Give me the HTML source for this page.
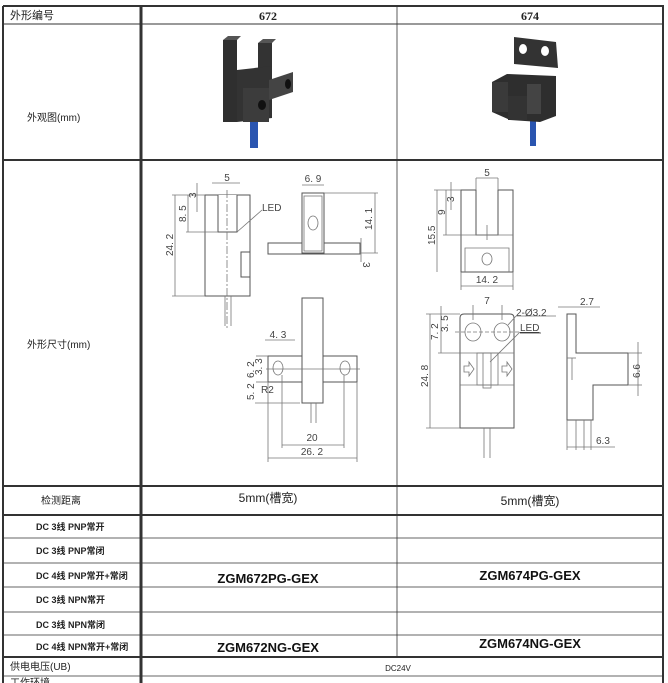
<!DOCTYPE html>
<html><head><meta charset="utf-8"><style>
html,body{margin:0;padding:0;background:#fff;}
svg{display:block;}
text{font-family:"Liberation Sans","Noto Sans CJK SC",sans-serif;fill:#222;}
.d{stroke:#777;stroke-width:0.8;fill:none;}
.o{stroke:#555;stroke-width:1;fill:#fff;}
.t{font-size:10px;fill:#444;}
.b{font-weight:bold;font-size:9px;fill:#222;}
.z{font-weight:bold;font-size:13px;fill:#111;}
</style></head><body>
<svg width="668" height="683" viewBox="0 0 668 683" xmlns="http://www.w3.org/2000/svg">
<rect width="668" height="683" fill="#fff"/>
<!-- table lines -->
<g stroke="#333" fill="none">
<line x1="3" y1="6" x2="664" y2="6" stroke-width="2"/>
<line x1="3" y1="24" x2="664" y2="24" stroke-width="1"/>
<line x1="3" y1="160" x2="664" y2="160" stroke-width="2"/>
<line x1="3" y1="486" x2="664" y2="486" stroke-width="2"/>
<line x1="3" y1="515" x2="664" y2="515" stroke-width="2"/>
<line x1="3" y1="538" x2="664" y2="538" stroke-width="0.8"/>
<line x1="3" y1="563" x2="664" y2="563" stroke-width="0.8"/>
<line x1="3" y1="587" x2="664" y2="587" stroke-width="0.8"/>
<line x1="3" y1="612" x2="664" y2="612" stroke-width="0.8"/>
<line x1="3" y1="635" x2="664" y2="635" stroke-width="0.8"/>
<line x1="3" y1="657" x2="664" y2="657" stroke-width="2"/>
<line x1="3" y1="676" x2="664" y2="676" stroke-width="0.8"/>
<line x1="3" y1="6" x2="3" y2="683" stroke-width="2"/>
<line x1="141" y1="6" x2="141" y2="683" stroke-width="3"/>
<line x1="397" y1="6" x2="397" y2="657" stroke-width="0.8"/>
<line x1="663" y1="6" x2="663" y2="683" stroke-width="2"/>
</g>
<!-- header texts -->
<text x="10" y="19" font-size="11">外形编号</text>
<text x="268" y="20" font-size="12" font-weight="bold" text-anchor="middle" style="font-family:'Liberation Serif',serif">672</text>
<text x="530" y="20" font-size="12" font-weight="bold" text-anchor="middle" style="font-family:'Liberation Serif',serif">674</text>
<text x="27" y="121" font-size="10">外观图(mm)</text>
<text x="27" y="348" font-size="10">外形尺寸(mm)</text>
<text x="41" y="504" font-size="10">检测距离</text>
<text x="268" y="502" font-size="12" text-anchor="middle">5mm(槽宽)</text>
<text x="530" y="505" font-size="12" text-anchor="middle">5mm(槽宽)</text>
<text x="36" y="530" class="b">DC 3线  PNP常开</text>
<text x="36" y="554" class="b">DC 3线  PNP常闭</text>
<text x="36" y="579" class="b">DC 4线  PNP常开+常闭</text>
<text x="36" y="603" class="b">DC 3线  NPN常开</text>
<text x="36" y="628" class="b">DC 3线  NPN常闭</text>
<text x="36" y="650" class="b">DC 4线  NPN常开+常闭</text>
<text x="268" y="583" class="z" text-anchor="middle">ZGM672PG-GEX</text>
<text x="530" y="580" class="z" text-anchor="middle">ZGM674PG-GEX</text>
<text x="268" y="652" class="z" text-anchor="middle">ZGM672NG-GEX</text>
<text x="530" y="648" class="z" text-anchor="middle">ZGM674NG-GEX</text>
<text x="10" y="670" font-size="10">供电电压(UB)</text>
<text x="398" y="671" font-size="8" text-anchor="middle">DC24V</text>
<text x="10" y="686" font-size="10">工作环境</text>

<!-- photo 672 -->
<rect x="250" y="118" width="8" height="30" fill="#2a55b0"/>
<polygon points="223,40 228,36 241,36 237,40" fill="#555"/>
<polygon points="258,43 263,39 276,39 272,43" fill="#555"/>
<rect x="223" y="40" width="14" height="82" fill="#2f2f2f"/>
<rect x="258" y="43" width="14" height="40" fill="#333"/>
<rect x="237" y="70" width="21" height="50" fill="#3a3a3a"/>
<polygon points="237,122 237,70 272,66 272,118" fill="#333"/>
<rect x="243" y="88" width="26" height="34" fill="#3c3c3c"/>
<polygon points="269,80 293,72 293,92 269,100" fill="#444"/>
<ellipse cx="262" cy="105" rx="4" ry="5" fill="#111"/>
<ellipse cx="288" cy="84" rx="3" ry="5" fill="#111"/>
<!-- photo 674 -->
<rect x="530" y="120" width="6" height="26" fill="#2a55b0"/>
<polygon points="514,37 556,42 558,68 514,64" fill="#333"/>
<ellipse cx="523" cy="49" rx="4" ry="5" fill="#fff"/>
<ellipse cx="545" cy="51" rx="4" ry="5" fill="#fff"/>
<polygon points="492,82 507,74 556,76 556,116 540,122 510,120 492,112" fill="#2e2e2e"/>
<rect x="492" y="82" width="16" height="30" fill="#3a3a3a"/>
<rect x="527" y="84" width="14" height="30" fill="#444"/>
<rect x="508" y="96" width="19" height="24" fill="#333"/>

<!-- drawing 672 -->
<g>
<rect class="o" x="205" y="195" width="45" height="101"/>
<path class="o" d="M218,195 V232 H237 V195"/>
<rect class="o" x="241" y="252" width="9" height="25"/>
<line class="d" x1="227" y1="190" x2="227" y2="330" stroke-dasharray="8,2,2,2"/>
<line class="d" x1="225" y1="296" x2="225" y2="326"/>
<line class="d" x1="231" y1="296" x2="231" y2="326"/>
<line class="d" x1="175" y1="195" x2="175" y2="296"/>
<line class="d" x1="172" y1="195" x2="205" y2="195"/>
<line class="d" x1="172" y1="296" x2="205" y2="296"/>
<line class="d" x1="188" y1="195" x2="188" y2="232"/>
<line class="d" x1="186" y1="232" x2="218" y2="232"/>
<line class="d" x1="197" y1="183" x2="197" y2="212"/>
<line class="d" x1="212" y1="183" x2="240" y2="183"/>
<line class="d" x1="237" y1="232" x2="262" y2="210"/>
<text class="t" x="227" y="181" text-anchor="middle">5</text>
<text class="t" x="262" y="211" font-size="7">LED</text>
<text class="t" font-size="9" transform="translate(196,198) rotate(-90)">3</text>
<text class="t" transform="translate(186,222) rotate(-90)">8. 5</text>
<text class="t" transform="translate(173,256) rotate(-90)">24. 2</text>
<!-- top view -->
<rect class="o" x="268" y="243" width="92" height="11"/>
<rect class="o" x="302" y="193" width="22" height="60"/>
<rect class="d" x="304" y="196" width="18" height="55"/>
<ellipse class="d" cx="313" cy="223" rx="5" ry="7"/>
<line class="d" x1="302" y1="185" x2="324" y2="185"/>
<line class="d" x1="324" y1="193" x2="378" y2="193"/>
<line class="d" x1="360" y1="253" x2="378" y2="253"/>
<line class="d" x1="375" y1="193" x2="375" y2="253"/>
<line class="d" x1="361" y1="238" x2="361" y2="262"/>
<text class="t" x="313" y="182" text-anchor="middle">6. 9</text>
<text class="t" transform="translate(372,230) rotate(-90)">14. 1</text>
<text class="t" font-size="9" transform="translate(363,262) rotate(90)">3</text>
<!-- bottom view -->
<rect class="o" x="268" y="356" width="89" height="26"/>
<rect class="o" x="302" y="298" width="21" height="105"/>
<ellipse class="d" cx="278" cy="368" rx="5" ry="7"/>
<ellipse class="d" cx="345" cy="368" rx="5" ry="7"/>
<line class="d" x1="266" y1="369" x2="360" y2="369"/>
<line class="d" x1="311" y1="403" x2="311" y2="423"/>
<line class="d" x1="316" y1="403" x2="316" y2="423"/>
<line class="d" x1="282" y1="375" x2="282" y2="448"/>
<line class="d" x1="344" y1="375" x2="344" y2="448"/>
<line class="d" x1="268" y1="382" x2="268" y2="462"/>
<line class="d" x1="357" y1="382" x2="357" y2="462"/>
<line class="d" x1="282" y1="445" x2="344" y2="445"/>
<line class="d" x1="268" y1="458" x2="357" y2="458"/>
<line class="d" x1="265" y1="340" x2="295" y2="340"/>
<line class="d" x1="256" y1="356" x2="268" y2="356"/>
<line class="d" x1="256" y1="382" x2="268" y2="382"/>
<line class="d" x1="255" y1="403" x2="300" y2="403"/>
<text class="t" x="312" y="441" text-anchor="middle" font-size="11">20</text>
<text class="t" x="312" y="455" text-anchor="middle" font-size="11">26. 2</text>
<text class="t" x="278" y="338" text-anchor="middle" font-size="8">4. 3</text>
<text class="t" x="261" y="393" font-size="9">R2</text>
<text class="t" font-size="8" transform="translate(254,378) rotate(-90)">6. 2</text>
<text class="t" font-size="7" transform="translate(262,375) rotate(-90)">3. 3</text>
<text class="t" font-size="7" transform="translate(254,400) rotate(-90)">5. 2</text>
</g>

<!-- drawing 674 -->
<g>
<path class="o" d="M461,190 H476 V235 H498 V190 H513 V272 H461 Z"/>
<line class="d" x1="461" y1="235" x2="513" y2="235"/>
<path class="d" d="M465,272 V248 H509 V272"/>
<ellipse class="d" cx="487" cy="259" rx="5" ry="6"/>
<line class="d" x1="487" y1="225" x2="487" y2="240"/>
<line class="d" x1="476" y1="178" x2="498" y2="178"/>
<line class="d" x1="476" y1="178" x2="476" y2="190"/>
<line class="d" x1="498" y1="178" x2="498" y2="190"/>
<line class="d" x1="461" y1="286" x2="513" y2="286"/>
<line class="d" x1="461" y1="272" x2="461" y2="290"/>
<line class="d" x1="513" y1="272" x2="513" y2="290"/>
<line class="d" x1="437" y1="190" x2="437" y2="272"/>
<line class="d" x1="434" y1="190" x2="461" y2="190"/>
<line class="d" x1="446" y1="190" x2="446" y2="235"/>
<line class="d" x1="443" y1="235" x2="461" y2="235"/>
<line class="d" x1="451" y1="182" x2="451" y2="210"/>
<text class="t" x="487" y="176" text-anchor="middle" font-size="11">5</text>
<text class="t" x="487" y="283" text-anchor="middle" font-size="11">14. 2</text>
<text class="t" font-size="9" transform="translate(435,245) rotate(-90)">15.5</text>
<text class="t" font-size="9" transform="translate(445,215) rotate(-90)">9</text>
<text class="t" font-size="7" transform="translate(454,202) rotate(-90)">3</text>
<!-- front bottom -->
<path class="o" d="M464,314 H510 Q514,314 514,318 V428 H460 V318 Q460,314 464,314 Z"/>
<line class="d" x1="460" y1="353" x2="514" y2="353"/>
<line class="d" x1="460" y1="385" x2="514" y2="385"/>
<rect class="d" x="477" y="353" width="21" height="32"/>
<rect class="d" x="483" y="353" width="8" height="35"/>
<ellipse class="d" cx="473" cy="332" rx="8" ry="9"/>
<ellipse class="d" cx="502" cy="332" rx="8" ry="9"/>
<line class="d" x1="455" y1="332" x2="520" y2="332" stroke-dasharray="4,2"/>
<path class="d" d="M464,366 H469 V362 L474,369 L469,376 V372 H464 Z"/>
<path class="d" d="M502,366 H507 V362 L512,369 L507,376 V372 H502 Z"/>
<line class="d" x1="484" y1="428" x2="484" y2="458"/>
<line class="d" x1="490" y1="428" x2="490" y2="458"/>
<line class="d" x1="430" y1="314" x2="430" y2="428"/>
<line class="d" x1="426" y1="314" x2="460" y2="314"/>
<line class="d" x1="426" y1="428" x2="460" y2="428"/>
<line class="d" x1="441" y1="306" x2="441" y2="353"/>
<line class="d" x1="438" y1="353" x2="460" y2="353"/>
<line class="d" x1="473" y1="305" x2="473" y2="320"/>
<line class="d" x1="502" y1="305" x2="502" y2="320"/>
<line class="d" x1="508" y1="325" x2="516" y2="316"/>
<line class="d" x1="516" y1="316" x2="556" y2="316"/>
<line class="d" x1="490" y1="362" x2="520" y2="332"/>
<text class="t" x="487" y="304" text-anchor="middle" font-size="11">7</text>
<text class="t" x="516" y="316" font-size="9">2-Ø3.2</text>
<text class="t" x="520" y="331" font-size="9" text-decoration="underline">LED</text>
<line x1="520" y1="333" x2="541" y2="333" stroke="#333" stroke-width="0.8"/>
<text class="t" transform="translate(428,387) rotate(-90)">24. 8</text>
<text class="t" transform="translate(438,340) rotate(-90)">7. 2</text>
<text class="t" font-size="8" transform="translate(448,332) rotate(-90)">3. 5</text>
<!-- side view -->
<path class="o" d="M567,314 H576 V353 H628 V385 H593 V420 H567 Z"/>
<line class="d" x1="567" y1="358" x2="576" y2="358"/>
<line class="d" x1="572" y1="358" x2="572" y2="380"/>
<line class="d" x1="576" y1="420" x2="576" y2="450"/>
<line class="d" x1="584" y1="420" x2="584" y2="450"/>
<line class="d" x1="591" y1="420" x2="591" y2="450"/>
<line class="d" x1="567" y1="420" x2="567" y2="450"/>
<line class="d" x1="567" y1="447" x2="615" y2="447"/>
<line class="d" x1="558" y1="307" x2="600" y2="307"/>
<line class="d" x1="628" y1="353" x2="642" y2="353"/>
<line class="d" x1="628" y1="385" x2="642" y2="385"/>
<line class="d" x1="638" y1="342" x2="638" y2="396"/>
<text class="t" x="580" y="305" font-size="11">2.7</text>
<text class="t" x="596" y="444" font-size="11">6.3</text>
<text class="t" font-size="11" transform="translate(640,378) rotate(-90)">6.6</text>
</g>
</svg>
</body></html>
